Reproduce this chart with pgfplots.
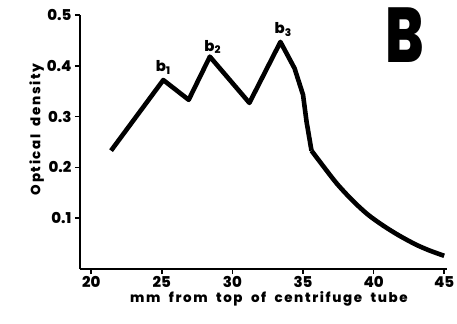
\documentclass[border=0pt]{standalone}
\usepackage{pgfplots}
\pgfplotsset{compat=1.18}
\usepackage{fontspec}
\setmainfont{Poppins}[BoldFont={Poppins ExtraBold}]
\newfontfamily\labfont{Poppins ExtraBold}[LetterSpace=12, WordSpace=2]
\begin{document}
\begin{tikzpicture}
\useasboundingbox (-80bp,-55bp) rectangle (377bp,269bp);
\begin{axis}[
  scale only axis, width=367bp, height=254bp,
  xmin=19.2, xmax=45.2, ymin=0, ymax=0.5,
  axis lines*=left, axis line style={line width=2bp},
  xtick={20,25,30,35,40,45}, ytick={0.1,0.2,0.3,0.4,0.5},
  yticklabels={0.1,0.2,0.3,0.4,0.5},
  tick align=outside, major tick length=5bp,
  tick style={line width=1.6bp, black},
  /pgf/number format/assume math mode=true,
  ticklabel style={font=\bfseries\fontsize{15}{15}\selectfont},
  xticklabel style={yshift=1bp},
  xlabel={mm from top of centrifuge tube},
  ylabel={Optical density},
  label style={font=\labfont\fontsize{13.5}{13.5}\selectfont},
  xlabel style={at={(ticklabel cs:0.515)}, yshift=3bp},
  ylabel style={at={(ticklabel cs:0.55)}, yshift=-4bp},
  clip=false,
]
\addplot[black, line width=4.6bp, line join=round] coordinates {
(21.4,0.233) (25.1,0.372) (26.9,0.333) (28.4,0.418) (31.2,0.327) (33.4,0.447) (34.4,0.395) (35.0,0.343) (35.25,0.29) (35.6,0.233)
};
\addplot[black, line width=4.6bp, line join=round, smooth] coordinates {
(35.6,0.233) (36.5,0.2) (37.4,0.168) (38.5,0.135) (39.6,0.107) (40.7,0.085) (41.8,0.066) (43,0.048) (44,0.036) (45,0.026)
};
\node[font=\bfseries\fontsize{15}{15}\selectfont] at (axis cs:25.1,0.397) {b\textsubscript{1}};
\node[font=\bfseries\fontsize{15}{15}\selectfont] at (axis cs:28.6,0.437) {b\textsubscript{2}};
\node[font=\bfseries\fontsize{15}{15}\selectfont] at (axis cs:33.6,0.472) {b\textsubscript{3}};
\node[font=\bfseries\fontsize{78}{78}\selectfont, xscale=0.74] at (axis cs:42.2,0.461) {B};
\end{axis}
\end{tikzpicture}
\end{document}
